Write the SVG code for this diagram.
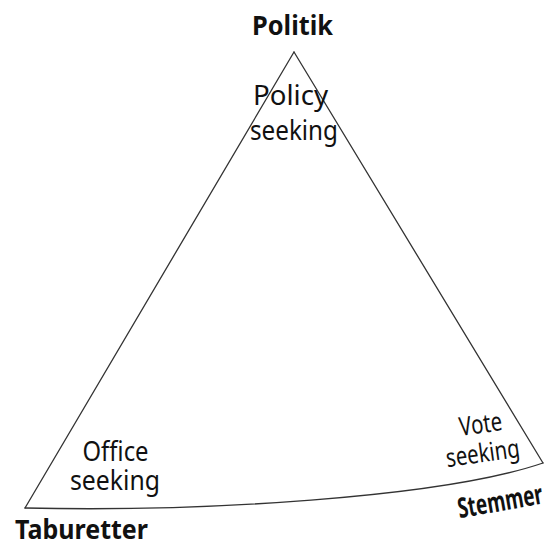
<svg xmlns="http://www.w3.org/2000/svg" width="550" height="546" viewBox="0 0 550 546">
<style>
.edge{fill:none;stroke:#333;stroke-width:1.3;stroke-linecap:round;stroke-linejoin:round}
.lbl{font-family:"Noto Sans","DejaVu Sans",sans-serif;font-size:28px;fill:#111;text-anchor:middle}
.corner{font-family:"Noto Sans","DejaVu Sans",sans-serif;font-size:27px;font-weight:bold;fill:#111;text-anchor:middle}
</style>
<rect width="550" height="546" fill="#fff"/>
<g id="connectors">
<path class="edge" d="M294,52 L25,508"/>
<path class="edge" d="M294,52 L543,463"/>
<path class="edge" d="M25,508 C200,512 440,498 543,463"/>
</g>
<g id="politik"><text class="corner" x="292.5" y="35" textLength="81" lengthAdjust="spacingAndGlyphs">Politik</text></g>
<g id="policy"><text class="lbl" x="290.5" y="105" textLength="75" lengthAdjust="spacingAndGlyphs">Policy</text><text class="lbl" x="294" y="140" textLength="88" lengthAdjust="spacingAndGlyphs">seeking</text></g>
<g id="office"><text class="lbl" x="115.5" y="461" style="font-size:28px" textLength="66" lengthAdjust="spacingAndGlyphs">Office</text><text class="lbl" x="115" y="490" style="font-size:28px" textLength="90" lengthAdjust="spacingAndGlyphs">seeking</text></g>
<g id="taburetter"><text class="corner" x="81.5" y="539" textLength="133" lengthAdjust="spacingAndGlyphs">Taburetter</text></g>
<g id="vote"><g transform="rotate(-8 483 448)"><text class="lbl" x="484" y="433" style="font-size:26px" textLength="43" lengthAdjust="spacingAndGlyphs">Vote</text><text class="lbl" x="482" y="462" style="font-size:26px" textLength="74" lengthAdjust="spacingAndGlyphs">seeking</text></g></g>
<g id="stemmer"><text class="corner" transform="rotate(-10 500 501)" x="500" y="511" style="font-size:28px" textLength="86" lengthAdjust="spacingAndGlyphs">Stemmer</text></g>
</svg>
